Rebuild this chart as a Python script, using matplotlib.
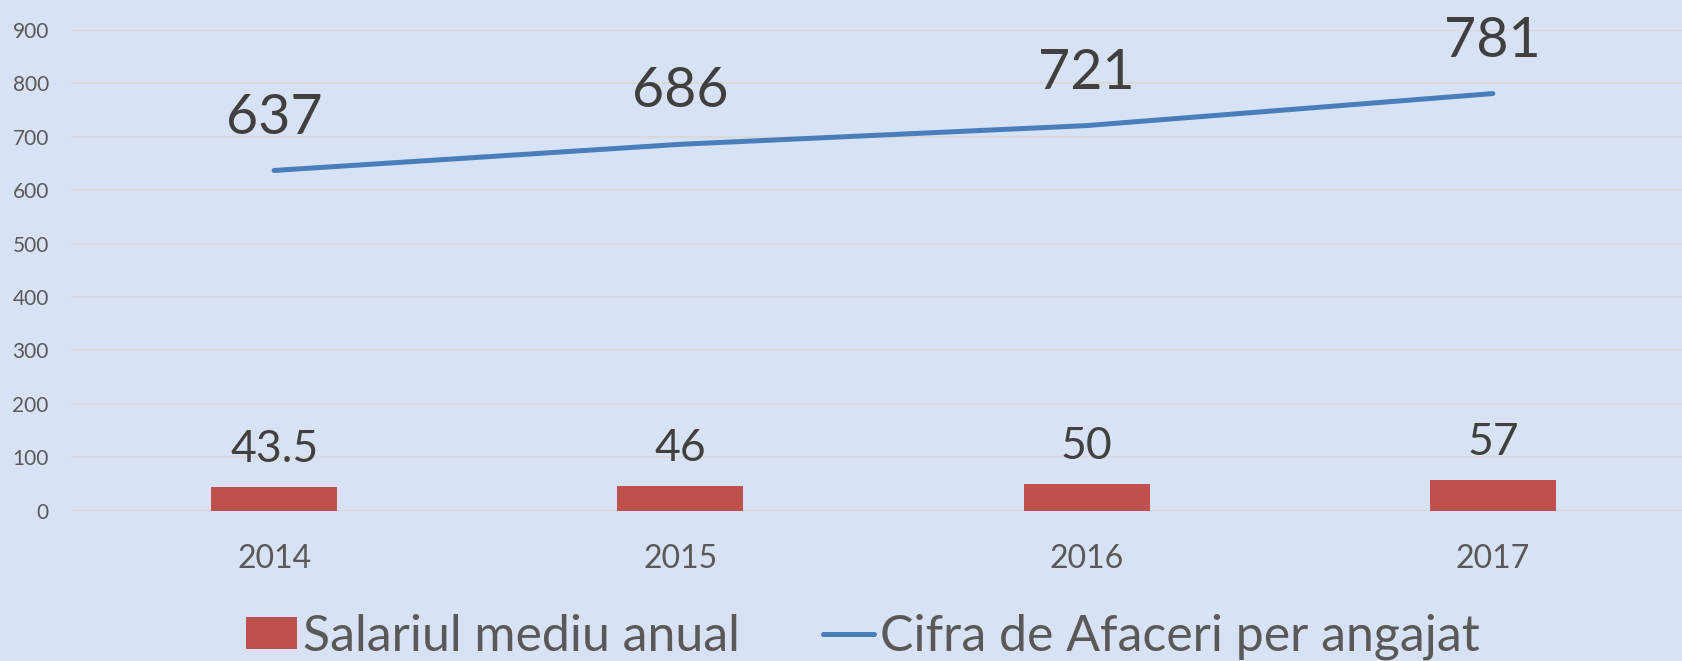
import matplotlib
matplotlib.use("Agg")
import matplotlib.pyplot as plt
from matplotlib.lines import Line2D
from matplotlib.patches import Patch

years = ["2014", "2015", "2016", "2017"]
salariu = [43.5, 46, 50, 57]
salariu_labels = ["43.5", "46", "50", "57"]
cifra = [637, 686, 721, 781]
cifra_labels = ["637", "686", "721", "781"]
yticks = [0, 100, 200, 300, 400, 500, 600, 700, 800, 900]

plt.rcParams['font.family'] = ['Lato', 'DejaVu Sans']

W, H = 1682, 661
bg = '#D7E3F4'
fig = plt.figure(figsize=(W / 100, H / 100), dpi=100, facecolor=bg)
ax = fig.add_axes([71 / W, 150.3 / H, (1696 - 71) / W, (510.7 - 30) / H])
ax.set_facecolor(bg)

x = list(range(len(years)))
ax.bar(x, salariu, width=0.31, color='#C0504D', zorder=3)
ax.plot(x, cifra, color='#4A7EBB', lw=3.6, solid_capstyle='round', zorder=4)

for xi, v, t in zip(x, salariu, salariu_labels):
    ax.annotate(t, (xi, v), xytext=(0, 18), textcoords='offset points',
                ha='center', va='baseline', fontsize=32, color='#404040',
                annotation_clip=False)
for xi, v, t in zip(x, cifra, cifra_labels):
    ax.annotate(t, (xi, v), xytext=(0, 26.5), textcoords='offset points',
                ha='center', va='baseline', fontsize=40, color='#404040',
                annotation_clip=False)

ax.set_xlim(-0.5, len(years) - 0.5)
ax.set_ylim(0, 900)
ax.set_yticks(yticks)
ax.set_yticklabels([str(v) for v in yticks])
ax.set_xticks(x)
ax.set_xticklabels(years)
ax.tick_params(axis='y', length=0, pad=16, labelsize=15, labelcolor='#595959')
ax.tick_params(axis='x', length=0, pad=24, labelsize=23, labelcolor='#595959')
ax.grid(axis='y', color='#D9D9D9', lw=1.6, zorder=0)
for s in ax.spines.values():
    s.set_visible(False)

handles = [Patch(facecolor='#C0504D', edgecolor='none'),
           Line2D([0], [0], color='#4A7EBB', lw=3.6, solid_capstyle='round')]
fig.legend(handles, ["Salariul mediu anual", "Cifra de Afaceri per angajat"],
           loc='center', bbox_to_anchor=(863 / W, 1 - 637 / H), ncol=2,
           frameon=False, fontsize=36, labelcolor='#595959',
           handlelength=1.02, handleheight=0.6, handletextpad=0.12,
           columnspacing=1.66, borderpad=0.2)

fig.savefig('out.png', dpi=100, facecolor=bg)
